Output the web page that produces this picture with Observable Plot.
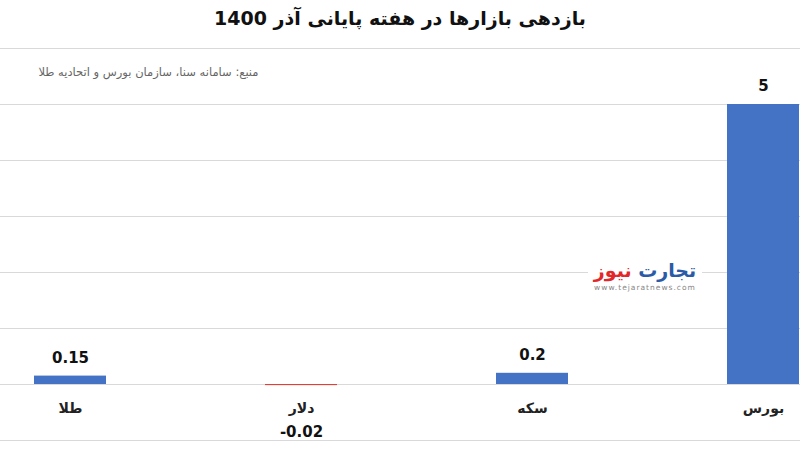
<!DOCTYPE html>
<html>
<head>
<meta charset="utf-8">
<script src="https://cdn.jsdelivr.net/npm/d3@7"></script>
<script src="https://cdn.jsdelivr.net/npm/@observablehq/plot@0.6"></script>
<style>
  body { margin: 0; background: #fff; font-family: "DejaVu Sans", sans-serif; }
  #wrap { position: relative; width: 800px; height: 458px; overflow: hidden; }
  #title { height: 36px; line-height: 36px; text-align: center; font-weight: bold; font-size: 19px; color: #111; direction: rtl; }
  #logo { position: absolute; left: 588px; top: 256px; width: 114px; background: #fff; text-align: center; padding: 2px 0 4px 0; }
  #logo .name { direction: rtl; font-weight: bold; font-size: 19px; line-height: 24px; }
  #logo .url { font-size: 7.5px; color: #888; letter-spacing: 1px; line-height: 12px; }
</style>
</head>
<body>
<div id="wrap">
  <div id="title">بازدهی بازارها در هفته پایانی آذر 1400</div>
  <div id="chart"></div>
  <div id="logo"><div class="name"><span style="color:#2b5aa6">تجارت</span> <span style="color:#e2262a">نیوز</span></div><div class="url">www.tejaratnews.com</div></div>
</div>
<script>
const categories = ["طلا", "دلار", "سکه", "بورس"];
const values = [0.15, -0.02, 0.2, 5];
const labels = ["0.15", "-0.02", "0.2", "5"];
const yTicks = [-1, 0, 1, 2, 3, 4, 5, 6];
const subtitle = "منبع: سامانه سنا، سازمان بورس و اتحادیه طلا";

const data = categories.map((c, i) => ({cat: c, value: values[i], label: labels[i]}));
const pos = data.filter(d => d.value >= 0);
const neg = data.filter(d => d.value < 0);

const font = "DejaVu Sans, sans-serif";

const chart = Plot.plot({
  width: 800,
  height: 422,
  marginTop: 12,
  marginBottom: 18,
  marginLeft: 0,
  marginRight: 0,
  style: {fontFamily: font, background: "#fff"},
  x: {domain: categories, range: [-128, 960], paddingInner: 0.69, paddingOuter: 0.69, axis: null},
  y: {domain: [-1, 6], axis: null},
  color: {type: "identity"},
  marks: [
    Plot.ruleY(yTicks, {stroke: "#d9d9d9", strokeWidth: 1}),
    Plot.barY(data, {x: "cat", y: "value", fill: d => d.value < 0 ? "#e0403a" : "#4472c4"}),
    Plot.text(data, {x: "cat", y: 0, text: "cat", dy: 24, fontSize: 14, fontWeight: "bold", fill: "#222"}),
    Plot.text(pos, {x: "cat", y: "value", text: "label", dy: -18, fontSize: 15, fontWeight: "bold", fill: "#111"}),
    Plot.text(neg, {x: "cat", y: "value", text: "label", dy: 47, fontSize: 15, fontWeight: "bold", fill: "#111"}),
    Plot.text([subtitle], {frameAnchor: "top-left", dx: 258, dy: 24, textAnchor: "end", lineAnchor: "middle", fontSize: 11.5, fill: "#666"})
  ]
});
document.getElementById("chart").appendChild(chart);
</script>
</body>
</html>
